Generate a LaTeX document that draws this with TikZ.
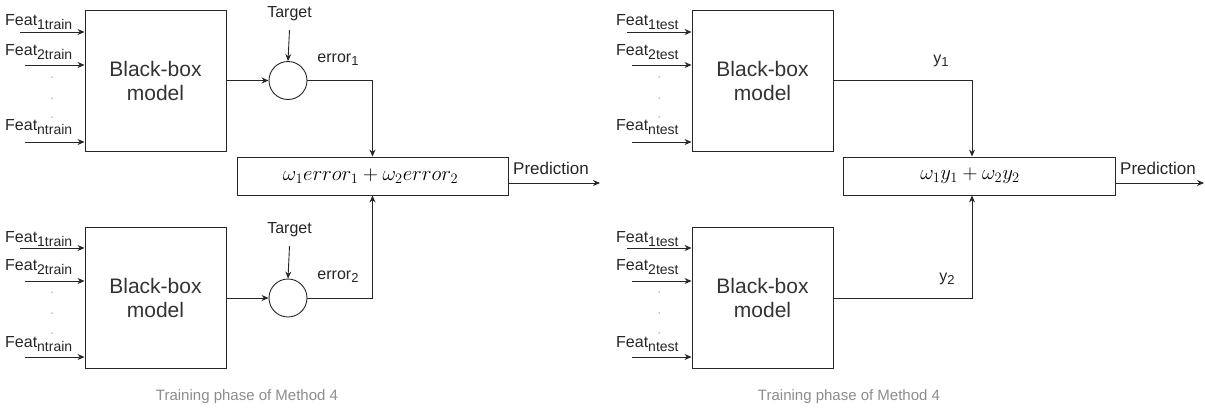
\documentclass[tikz,border=0pt]{standalone}
\usepackage{fontspec}
\setmainfont{Liberation Sans}
\usetikzlibrary{arrows.meta}
\newcommand{\fsub}[1]{\raisebox{-4pt}{\fontsize{14}{14}\selectfont #1}}
\newcommand{\esub}[1]{\raisebox{-3pt}{\fontsize{13}{13}\selectfont #1}}
\begin{document}
\begin{tikzpicture}[x=1pt,y=-1pt,
  line/.style={draw=black!85, line width=0.9pt},
  arr/.style={line, -{Stealth[length=7pt,width=6pt]}},
  bbox/.style={draw=black!85, line width=0.9pt, minimum width=141pt, minimum height=141pt, inner sep=0pt, align=center, font=\fontsize{21}{24}\selectfont, text=black!80},
  sbox/.style={draw=black!85, line width=0.9pt, minimum height=38pt, inner sep=0pt, font=\fontsize{21}{21}\selectfont},
  cnode/.style={draw=black!85, line width=0.9pt, circle, minimum size=38pt, inner sep=0pt},
  feat/.style={anchor=base west, inner sep=0pt, font=\fontsize{16}{16}\selectfont, text=black!85},
  lbl/.style={inner sep=0pt, font=\fontsize{16}{16}\selectfont, text=black!85},
  captxt/.style={inner sep=0pt, font=\fontsize{15}{15}\selectfont, text=black!45},
  dotmark/.style={fill=black!45, draw=none, circle, minimum size=1.5pt, inner sep=0pt}
]
\useasboundingbox (0,0) rectangle (1205,410);

% ---------------- left panel ----------------
\node[bbox] (b1) at (155.5,80.5) {Black-box\\model};
\node[bbox] (b2) at (155.5,298) {Black-box\\model};
\node[cnode] (c1) at (288,80.5) {};
\node[cnode] (c2) at (288,298) {};
\node[sbox, minimum width=271pt] (s1) at (372.5,176) {$\omega_1 error_1+\omega_2 error_2$\hspace*{4pt}};

\node[feat] (f11) at (5,25) {Feat\fsub{1train}};
\node[feat] (f12) at (5,55) {Feat\fsub{2train}};
\node[feat] (f1n) at (5,130) {Feat\fsub{ntrain}};
\node[feat] (f21) at (5,242) {Feat\fsub{1train}};
\node[feat] (f22) at (5,270) {Feat\fsub{2train}};
\node[feat] (f2n) at (5,347) {Feat\fsub{ntrain}};

\coordinate (i11) at (20,32);  \coordinate (i12) at (25,65);  \coordinate (i1n) at (25,142);
\coordinate (i21) at (20,248); \coordinate (i22) at (25,281); \coordinate (i2n) at (25,357);
\foreach \i in {i11,i12,i1n,i21,i22,i2n} \draw[arr] (\i) -- (b1.west |- \i);

\foreach \y in {77,98,117,292,313,333} \node[dotmark] at (52,\y) {};

\node[lbl] (t1) at (289.5,14) {Target};
\node[lbl] (t2) at (289.5,230) {Target};
\draw[arr] (t1.south |- 0,30) -- (c1.north);
\draw[arr] (t2.south |- 0,246) -- (c2.north);

\draw[arr] (b1.east) -- (c1.west);
\draw[arr] (b2.east) -- (c2.west);
\draw[arr] (c1.east) -| (s1.north);
\draw[arr] (c2.east) -| (s1.south);

\node[lbl] (e1) at (338,60) {error\esub{1}};
\node[lbl] (e2) at (338,277) {error\esub{2}};

\coordinate (p1) at (600,183);
\draw[arr] (s1.east |- p1) -- (p1);
\node[lbl, anchor=west, font=\fontsize{17}{17}\selectfont] (pr1) at (513,168) {Prediction};

\node[captxt] (cap1) at (247,397) {Training phase of Method 4};

% ---------------- right panel ----------------
\node[bbox] (b3) at (762.5,80.5) {Black-box\\model};
\node[bbox] (b4) at (762.5,298) {Black-box\\model};
\node[sbox, minimum width=272pt] (s2) at (979,176) {$\omega_1 y_1+\omega_2 y_2$\hspace*{18pt}};

\node[feat] (f31) at (616,25) {Feat\fsub{1test}};
\node[feat] (f32) at (616,55) {Feat\fsub{2test}};
\node[feat] (f3n) at (616,130) {Feat\fsub{ntest}};
\node[feat] (f41) at (616,242) {Feat\fsub{1test}};
\node[feat] (f42) at (616,270) {Feat\fsub{2test}};
\node[feat] (f4n) at (616,347) {Feat\fsub{ntest}};

\coordinate (i31) at (627,32);  \coordinate (i32) at (632,65);  \coordinate (i3n) at (632,142);
\coordinate (i41) at (627,248); \coordinate (i42) at (632,281); \coordinate (i4n) at (632,357);
\foreach \i in {i31,i32,i3n,i41,i42,i4n} \draw[arr] (\i) -- (b3.west |- \i);

\foreach \y in {77,98,117,292,313,333} \node[dotmark] at (659,\y) {};

\coordinate (jx) at (972,0);
\draw[arr] (b3.east) -| (jx |- s2.north);
\draw[arr] (b4.east) -| (jx |- s2.south);

\node[lbl] (y1) at (941,61) {y\esub{1}};
\node[lbl] (y2) at (947,279) {y\esub{2}};

\coordinate (p2) at (1204,183);
\draw[arr] (s2.east |- p2) -- (p2);
\node[lbl, anchor=west, font=\fontsize{17}{17}\selectfont] (pr2) at (1120,168) {Prediction};

\node[captxt] (cap2) at (849,397) {Training phase of Method 4};
\end{tikzpicture}
\end{document}
